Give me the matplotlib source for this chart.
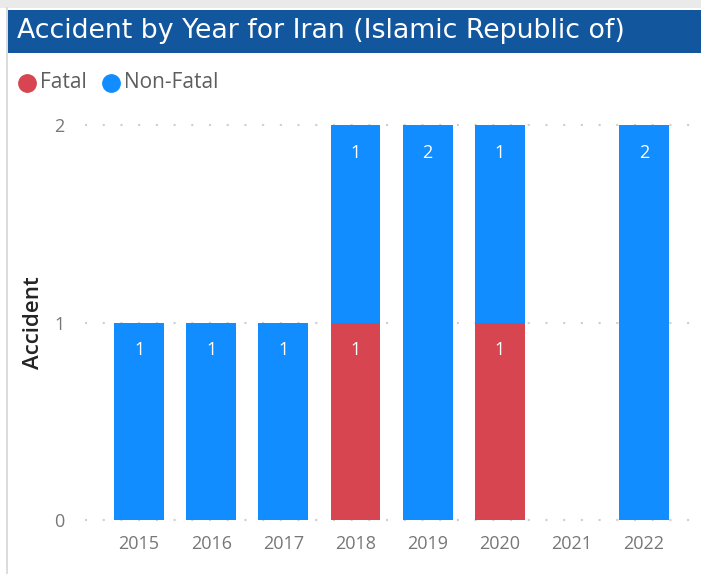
import matplotlib
matplotlib.use("Agg")
import matplotlib.pyplot as plt
from matplotlib.patches import Rectangle
from matplotlib.lines import Line2D
import numpy as np

years = ["2015", "2016", "2017", "2018", "2019", "2020", "2021", "2022"]
fatal = [0, 0, 0, 1, 0, 1, 0, 0]
non_fatal = [1, 1, 1, 1, 2, 1, 0, 2]
yticks = [0, 1, 2]

title = "Accident by Year for Iran (Islamic Republic of)"
y_label = "Accident"
legend_labels = ["Fatal", "Non-Fatal"]

RED = "#D64550"
BLUE = "#118DFF"
TITLE_BG = "#12579E"

W, H = 701, 574
fig = plt.figure(figsize=(W / 100, H / 100), dpi=100)
fig.patch.set_facecolor("white")

def px(x, y):
    return x / W, 1 - y / H

# frame decorations
fig.add_artist(Rectangle((0, 1 - 8 / H), 1, 8 / H, transform=fig.transFigure,
                         facecolor="#EAEAEA", edgecolor="none"))
fig.add_artist(Line2D([7 / W, 7 / W], [0, 1 - 8 / H], transform=fig.transFigure,
                      color="#D6D6D6", lw=1.2))
# title bar
fig.add_artist(Rectangle((8 / W, 1 - 53 / H), 1 - 8 / W, 43 / H, transform=fig.transFigure,
                         facecolor=TITLE_BG, edgecolor="none"))
tx, ty = px(17, 31)
fig.text(tx, ty, title, color="white", fontsize=19.3, va="center", ha="left",
         family=["DejaVu Sans"])

# legend
font = ["Open Sans", "DejaVu Sans"]
for (xc, col, lab) in [(27, RED, legend_labels[0]), (111, BLUE, legend_labels[1])]:
    mx, my = px(xc, 83)
    fig.add_artist(Line2D([mx], [my], transform=fig.transFigure, marker="o",
                          markersize=12.5, color=col, linestyle="none"))
    fig.text(mx + 13 / W, my, lab, color="#605E5C", fontsize=15, va="center",
             ha="left", family=font)

# axes
left, right = 85 / W, 1.0
bottom, top = 1 - 520 / H, 1 - 125 / H
ax = fig.add_axes([left, bottom, right - left, top - bottom])
x = np.arange(len(years))
width = 0.69
fatal_a = np.array(fatal)
nonf_a = np.array(non_fatal)
ax.bar(x, fatal_a, width, color=RED, zorder=3)
ax.bar(x, nonf_a, width, bottom=fatal_a, color=BLUE, zorder=3)

for xi, f, n in zip(x, fatal_a, nonf_a):
    if f > 0:
        ax.annotate(str(f), (xi, f), xytext=(0, -20), textcoords="offset points",
                    ha="center", va="center", color="white", fontsize=13, family=font,
                    zorder=4)
    if n > 0:
        ax.annotate(str(n), (xi, f + n), xytext=(0, -20), textcoords="offset points",
                    ha="center", va="center", color="white", fontsize=13, family=font,
                    zorder=4)

ax.set_xlim(-0.75, 7.79)
ax.set_ylim(0, 2)
ax.set_yticks(yticks)
ax.set_xticks(x)
ax.set_xticklabels(years)
for s in ax.spines.values():
    s.set_visible(False)
ax.tick_params(axis="both", length=0, colors="#777777", labelsize=13)
ax.tick_params(axis="x", pad=11)
ax.tick_params(axis="y", pad=15)
for lab in ax.get_xticklabels() + ax.get_yticklabels():
    lab.set_family(font)
for yv in yticks:
    ax.axhline(yv, color="#CFCFCF", lw=1.5, linestyle=(0, (1, 7.5)), zorder=1,
               clip_on=False)
ax.set_ylabel(y_label, fontsize=16, color="#252423", family=font, weight="semibold")
ax.yaxis.set_label_coords(-41 / 616, 0.5)
ax.set_facecolor("white")

fig.savefig("out.png", dpi=100)
